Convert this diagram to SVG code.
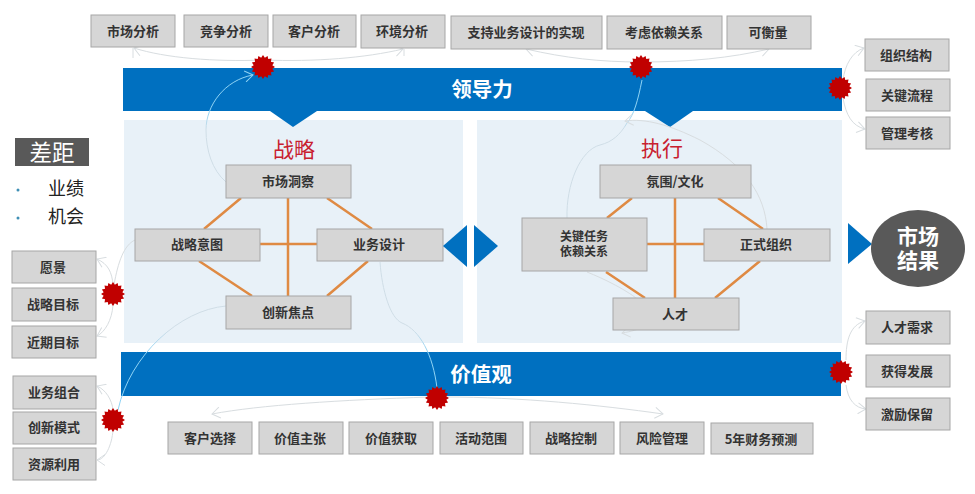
<svg xmlns="http://www.w3.org/2000/svg" width="975" height="494" viewBox="0 0 975 494">
<style>
text{font-family:"Noto Sans CJK SC","Liberation Sans",sans-serif;text-anchor:middle}
.b{fill:#d6d6d6;stroke:#a6a6a6;stroke-width:1}
.t{font-size:13px;font-weight:700;fill:#333}
.s{font-size:12px;font-weight:700;fill:#333}
.bar{fill:#0070c0}
.panel{fill:#e8f1f8}
.wt{font-size:20.5px;font-weight:700;fill:#fff}
.red{font-size:21px;fill:#c8202f}
.lab{font-size:18px;fill:#222;text-anchor:start}
.o{stroke:#df8a43;stroke-width:2.5;fill:none}
.c{stroke:#d8dde0;stroke-width:1;fill:none;marker-end:url(#a)}
.n{stroke:#d8dde0;stroke-width:1;fill:none}
.star{fill:#c00000}
</style>
<defs>
<marker id="a" viewBox="0 0 12 12" refX="10" refY="6" markerWidth="12" markerHeight="12" markerUnits="userSpaceOnUse" orient="auto">
<path d="M2,0.5 L10,6 L2,11.5" fill="none" stroke="#d8dde0" stroke-width="1"/>
</marker>
<marker id="ab" viewBox="0 0 12 12" refX="10" refY="6" markerWidth="12" markerHeight="12" markerUnits="userSpaceOnUse" orient="auto">
<path d="M2,0.5 L10,6 L2,11.5" fill="none" stroke="#8fd3f4" stroke-width="1"/>
</marker>
<linearGradient id="gt" gradientUnits="userSpaceOnUse" x1="0" y1="68" x2="0" y2="130">
<stop offset="0" stop-color="#8fd3f4"/><stop offset="0.7" stop-color="#8fd3f4"/><stop offset="1" stop-color="#cfdde6"/>
</linearGradient>
<linearGradient id="gb" gradientUnits="userSpaceOnUse" x1="0" y1="330" x2="0" y2="396">
<stop offset="0" stop-color="#cfdde6"/><stop offset="0.35" stop-color="#8fd3f4"/><stop offset="1" stop-color="#8fd3f4"/>
</linearGradient>
<polygon id="st" points="12,0 9.32,1.85 11.09,4.6 7.9,5.28 8.49,8.49 5.28,7.9 4.6,11.09 1.85,9.32 0,12 -1.85,9.32 -4.6,11.09 -5.28,7.9 -8.49,8.49 -7.9,5.28 -11.09,4.6 -9.32,1.85 -12,0 -9.32,-1.85 -11.09,-4.6 -7.9,-5.28 -8.49,-8.49 -5.28,-7.9 -4.6,-11.09 -1.85,-9.32 0,-12 1.85,-9.32 4.6,-11.09 5.28,-7.9 8.49,-8.49 7.9,-5.28 11.09,-4.6 9.32,-1.85"/>
</defs>
<rect width="975" height="494" fill="#fff"/>

<g id="panels">
<rect class="panel" x="124" y="120" width="339" height="223"/>
<rect class="panel" x="477" y="120" width="365" height="223"/>
</g>
<g id="bar-leadership">
<rect class="bar" x="123" y="68" width="719" height="43"/>
<polygon class="bar" points="270,111 293,127 317,111"/>
<polygon class="bar" points="645,111 670,127 693,111"/>
<text class="wt" x="482" y="97">领导力</text>
</g>
<g id="bar-values">
<rect class="bar" x="121" y="352" width="720" height="44"/>
<text class="wt" x="481" y="382">价值观</text>
</g>

<g id="connectors">
<path class="o" d="M241,198L204,229M327,198L372,229M288,198V296M260,244H317M199,261L252,296M368,261L327,296"/>
<path class="o" d="M632,198L607,218M718,198L763,229M675,198V298M647,244H704M606,272L645,298M760,261L715,298"/>
<path class="c" d="M263,60 C215,62 165,58 134,48"/>
<path class="n" d="M133,48V58"/>
<path class="c" d="M263,60 C315,62 365,58 403,49"/>
<path class="n" d="M404,49V56"/>
<path class="c" d="M641,62 C600,62 565,58 526,49"/>
<path class="c" d="M641,62 C690,62 730,58 769,49"/>
<path d="M226,182 C212,170 206,150 206,130 C206,105 225,80 253,75" fill="none" stroke="url(#gt)" marker-end="url(#ab)"/>
<path d="M642,80 C638,100 634,115 627,123 C620,135 612,142 600,145 C580,150 566,185 567,218" fill="none" stroke="url(#gt)"/>
<path class="c" d="M767,229 C765,195 745,165 700,140 C670,125 645,118 625,121"/>
<path class="c" d="M587,272 C620,285 690,322 622,333"/>
<path class="c" d="M843,80 C845,65 852,52 864,48"/>
<path class="c" d="M843,98 C846,115 852,126 865,129"/>
<path class="c" d="M846,360 C846,340 850,325 865,321"/>
<path class="c" d="M846,385 C848,400 855,408 866,409"/>
<path class="c" d="M113,285 C112,272 108,264 97,259"/>
<path class="c" d="M113,305 C112,320 105,332 97,336"/>
<path class="c" d="M113,410 C112,400 106,390 97,386"/>
<path class="c" d="M113,430 C112,445 105,460 97,460"/>
<path class="n" d="M135,240 C124,245 118,262 114,285"/>
<path d="M226,306 C180,310 130,355 118,410" fill="none" stroke="url(#gb)"/>
<path d="M380,262 C382,290 390,318 402,323 C420,330 433,355 437,388" fill="none" stroke="url(#gb)"/>
<path class="c" d="M430,397 C340,400 260,405 212,414"/>
<path class="c" d="M445,397 C520,397 600,405 663,414"/>
</g>

<g id="stars" class="star">
<use href="#st" x="263" y="67"/>
<use href="#st" x="641" y="67"/>
<use href="#st" x="840" y="88"/>
<use href="#st" x="113" y="294"/>
<use href="#st" x="113" y="420"/>
<use href="#st" x="437" y="398"/>
<use href="#st" x="841" y="372"/>
</g>

<g id="gap">
<rect x="15" y="138" width="74" height="28" fill="#595959"/>
<text x="52" y="161" font-size="22.5" fill="#fff">差距</text>
<circle cx="18" cy="190" r="1.5" fill="#3f8fb5"/>
<text class="lab" x="48" y="195">业绩</text>
<circle cx="18" cy="218" r="1.5" fill="#3f8fb5"/>
<text class="lab" x="48" y="223">机会</text>
</g>

<g id="n-shichangfenxi"><rect class="b" x="91" y="15" width="84" height="32"/><text class="t" x="133" y="36">市场分析</text></g>
<g id="n-jingzheng"><rect class="b" x="184" y="15" width="84" height="32"/><text class="t" x="226" y="36">竞争分析</text></g>
<g id="n-kehu"><rect class="b" x="273" y="15" width="83" height="32"/><text class="t" x="314" y="36">客户分析</text></g>
<g id="n-huanjing"><rect class="b" x="361" y="15" width="84" height="33"/><text class="t" x="402" y="36">环境分析</text></g>
<g id="n-zhichi"><rect class="b" x="451" y="16" width="151" height="33"/><text class="t" x="526" y="37">支持业务设计的实现</text></g>
<g id="n-kaolv"><rect class="b" x="607" y="16" width="115" height="33"/><text class="t" x="664" y="37">考虑依赖关系</text></g>
<g id="n-kehengliang"><rect class="b" x="727" y="16" width="84" height="33"/><text class="t" x="768" y="37">可衡量</text></g>

<g id="n-zuzhi"><rect class="b" x="865" y="39" width="84" height="32"/><text class="t" x="906" y="60">组织结构</text></g>
<g id="n-guanjianliucheng"><rect class="b" x="866" y="79" width="84" height="32"/><text class="t" x="907" y="100">关键流程</text></g>
<g id="n-guanli"><rect class="b" x="866" y="117" width="84" height="32"/><text class="t" x="907" y="138">管理考核</text></g>
<g id="n-rencaixuqiu"><rect class="b" x="866" y="311" width="84" height="33"/><text class="t" x="907" y="332">人才需求</text></g>
<g id="n-huode"><rect class="b" x="866" y="355" width="84" height="32"/><text class="t" x="907" y="376">获得发展</text></g>
<g id="n-jili"><rect class="b" x="866" y="398" width="84" height="32"/><text class="t" x="907" y="419">激励保留</text></g>

<g id="n-yuanjing"><rect class="b" x="12" y="251" width="84" height="32"/><text class="t" x="53" y="272">愿景</text></g>
<g id="n-zhanluemubiao"><rect class="b" x="12" y="288" width="84" height="33"/><text class="t" x="53" y="309">战略目标</text></g>
<g id="n-jinqi"><rect class="b" x="12" y="326" width="84" height="32"/><text class="t" x="53" y="347">近期目标</text></g>
<g id="n-yewuzuhe"><rect class="b" x="13" y="376" width="83" height="33"/><text class="t" x="54" y="397">业务组合</text></g>
<g id="n-chuangxinmoshi"><rect class="b" x="13" y="412" width="83" height="32"/><text class="t" x="54" y="432">创新模式</text></g>
<g id="n-ziyuan"><rect class="b" x="13" y="448" width="83" height="32"/><text class="t" x="54" y="469">资源利用</text></g>

<g id="n-kehuxuanze"><rect class="b" x="168" y="422" width="84" height="32"/><text class="t" x="210" y="443">客户选择</text></g>
<g id="n-jiazhizhuzhang"><rect class="b" x="259" y="422" width="84" height="32"/><text class="t" x="300" y="443">价值主张</text></g>
<g id="n-jiazhihuoqu"><rect class="b" x="349" y="422" width="84" height="32"/><text class="t" x="391" y="443">价值获取</text></g>
<g id="n-huodong"><rect class="b" x="440" y="422" width="83" height="32"/><text class="t" x="481" y="443">活动范围</text></g>
<g id="n-zhanluekongzhi"><rect class="b" x="530" y="422" width="84" height="32"/><text class="t" x="571" y="443">战略控制</text></g>
<g id="n-fengxian"><rect class="b" x="620" y="422" width="84" height="32"/><text class="t" x="662" y="443">风险管理</text></g>
<g id="n-caiwu"><rect class="b" x="711" y="423" width="102" height="31"/><text class="t" x="761" y="444">5年财务预测</text></g>

<g id="title-strategy"><text class="red" x="294" y="157">战略</text></g>
<g id="n-dongcha"><rect class="b" x="226" y="165" width="125" height="33"/><text class="t" x="288" y="186">市场洞察</text></g>
<g id="n-yitu"><rect class="b" x="135" y="229" width="125" height="32"/><text class="t" x="197" y="249">战略意图</text></g>
<g id="n-sheji"><rect class="b" x="317" y="229" width="126" height="32"/><text class="t" x="379" y="249">业务设计</text></g>
<g id="n-jiaodian"><rect class="b" x="226" y="296" width="125" height="33"/><text class="t" x="288" y="317">创新焦点</text></g>

<g id="title-exec"><text class="red" x="662" y="156">执行</text></g>
<g id="n-fenwei"><rect class="b" x="600" y="165" width="151" height="33"/><text class="t" x="675" y="186">氛围/文化</text></g>
<g id="n-renwu"><rect class="b" x="522" y="218" width="125" height="53"/><text class="s" x="584" y="241"><tspan x="584">关键任务</tspan><tspan x="584" dy="15">依赖关系</tspan></text></g>
<g id="n-zhengshi"><rect class="b" x="704" y="229" width="126" height="32"/><text class="t" x="766" y="249">正式组织</text></g>
<g id="n-rencai"><rect class="b" x="613" y="298" width="126" height="32"/><text class="t" x="675" y="319">人才</text></g>

<g id="arrows" class="bar">
<polygon points="467,225 467,267 443,246"/>
<polygon points="474,225 498,246 474,267"/>
<polygon points="848,223 872,244 848,264"/>
</g>
<g id="n-result">
<ellipse cx="918" cy="248.500" rx="47" ry="38.500" fill="#595959"/>
<text x="918" y="244" font-size="21" font-weight="700" fill="#fff"><tspan x="918">市场</tspan><tspan x="918" dy="24">结果</tspan></text>
</g>
</svg>
